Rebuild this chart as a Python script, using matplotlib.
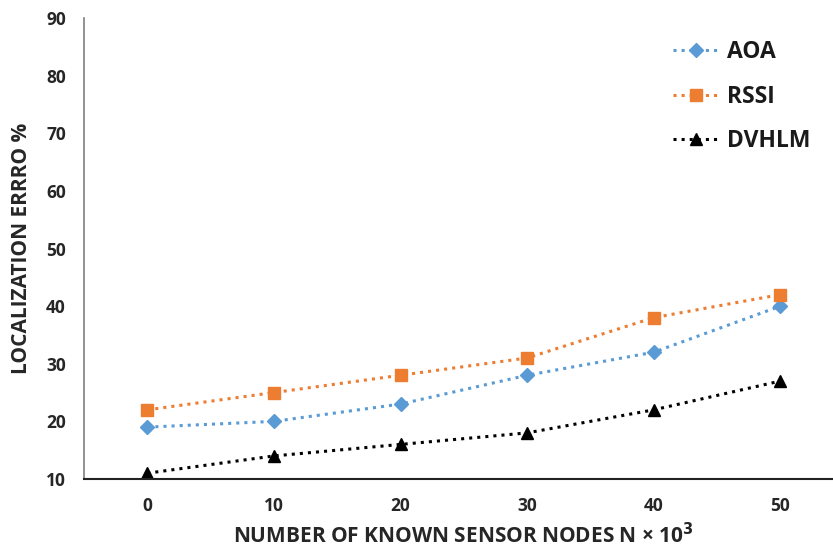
import numpy as np
import matplotlib.pyplot as plt

plt.rcParams['font.family'] = ['Open Sans', 'DejaVu Sans']

# data
n_known = ["0", "10", "20", "30", "40", "50"]
aoa = [19, 20, 23, 28, 32, 40]
rssi = [22, 25, 28, 31, 38, 42]
dvhlm = [11, 14, 16, 18, 22, 27]

fig = plt.figure(figsize=(8.33, 5.51), dpi=100)
ax = fig.add_axes([0.1008, 0.1307, 0.912, 0.8366])

x = np.arange(len(n_known))
ax.plot(x, aoa, linestyle=":", linewidth=2.2, color="#5B9BD5",
        marker="D", markersize=7, label="AOA")
ax.plot(x, rssi, linestyle=":", linewidth=2.2, color="#ED7D31",
        marker="s", markersize=8, label="RSSI")
ax.plot(x, dvhlm, linestyle=":", linewidth=2.2, color="black",
        marker="^", markersize=8, label="DVHLM")

ax.set_xlim(-0.5, 5.5)
ax.set_ylim(10, 90)
ax.set_yticks(range(10, 91, 10))
ax.set_xticks(x)
ax.set_xticklabels(n_known)

for s in ["top", "right"]:
    ax.spines[s].set_visible(False)
ax.spines["left"].set_color("#7f7f7f")
ax.spines["left"].set_linewidth(1.2)
ax.spines["bottom"].set_color("#222222")
ax.spines["bottom"].set_linewidth(1.5)
ax.tick_params(axis="both", length=0, labelsize=12.5, pad=13)
for lbl in ax.get_xticklabels() + ax.get_yticklabels():
    lbl.set_fontweight("bold")
    lbl.set_color("#262626")

ax.set_xlabel("NUMBER OF KNOWN SENSOR NODES N × 10$^{\\mathbf{3}}$", fontsize=15,
              fontweight="bold", color="#262626", labelpad=6)
ax.set_ylabel("LOCALIZATION ERRRO %", fontsize=15, fontweight="bold",
              color="#262626", labelpad=10)

leg = ax.legend(loc="upper left", bbox_to_anchor=(0.775, 0.952), frameon=False,
                prop={"size": 16.5, "weight": "bold"}, handlelength=2.05,
                labelspacing=0.9, handletextpad=0.3, borderpad=0,
                borderaxespad=0)
for t in leg.get_texts():
    t.set_color("#1a1a1a")

fig.savefig("out.png", dpi=100)
